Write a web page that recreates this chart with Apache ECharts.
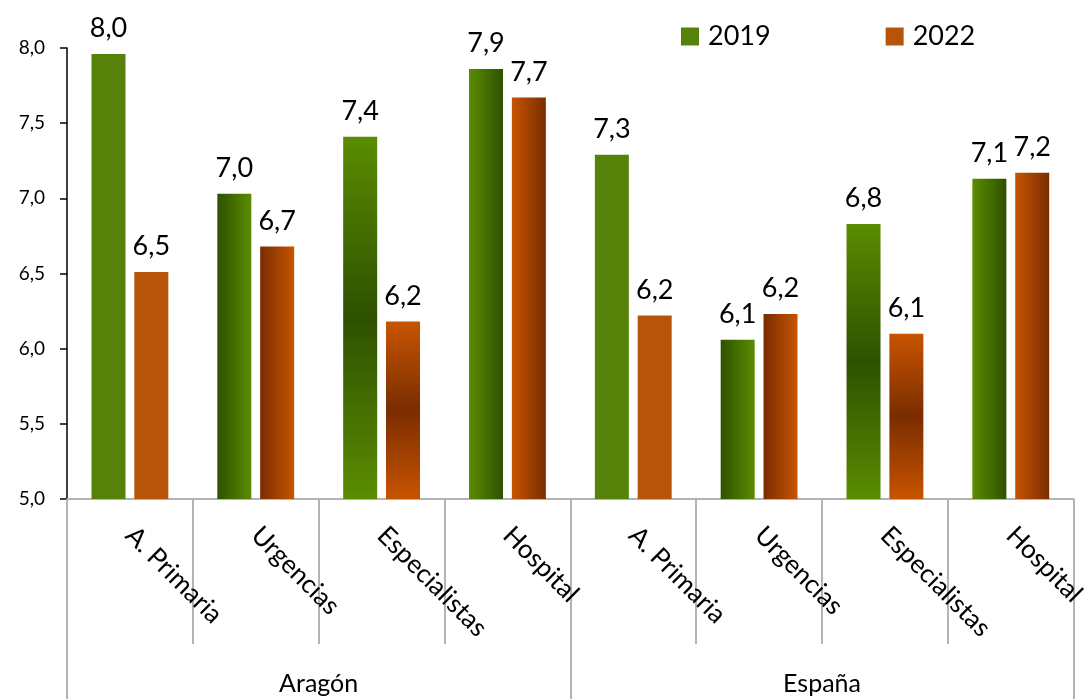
<!DOCTYPE html>
<html>
<head>
<meta charset="utf-8">
<script src="https://cdn.jsdelivr.net/npm/echarts@6/dist/echarts.min.js"></script>
<style>
  html, body { margin: 0; padding: 0; background: #fff; }
  #chart { width: 1089px; height: 699px; }
</style>
</head>
<body>
<div id="chart"></div>
<script>
// Regions (outer grouping) and services (inner categories)
const groups = ['Aragón', 'España'];
const categories = ['A. Primaria', 'Urgencias', 'Especialistas', 'Hospital',
                    'A. Primaria', 'Urgencias', 'Especialistas', 'Hospital'];
const seriesNames = ['2019', '2022'];
const values2019 = [7.96, 7.03, 7.41, 7.86, 7.29, 6.06, 6.83, 7.13];
const values2022 = [6.51, 6.68, 6.18, 7.67, 6.22, 6.23, 6.10, 7.17];
const yTicks = [5.0, 5.5, 6.0, 6.5, 7.0, 7.5, 8.0];

const FONT = 'Lato, "Open Sans", sans-serif';

// Palette: flat, bright and dark shade for each year
const palette = {
  green:  { flat: '#56820a', bright: '#5b8c00', dark: '#2e5100' },
  orange: { flat: '#b8540a', bright: '#c75400', dark: '#7a2d00' }
};
// Fill treatment per service, repeated for each region
const fillKinds = ['flat', 'darkLeft', 'centerDark', 'darkRight'];

function fillFor(pal, idx) {
  const kind = fillKinds[idx % fillKinds.length];
  if (kind === 'flat') return pal.flat;
  if (kind === 'darkLeft') {
    return new echarts.graphic.LinearGradient(0, 0, 1, 0, [
      { offset: 0, color: pal.dark }, { offset: 1, color: pal.bright }
    ]);
  }
  if (kind === 'darkRight') {
    return new echarts.graphic.LinearGradient(0, 0, 1, 0, [
      { offset: 0, color: pal.bright }, { offset: 1, color: pal.dark }
    ]);
  }
  return new echarts.graphic.LinearGradient(0, 0, 0, 1, [
    { offset: 0, color: pal.bright },
    { offset: 0.5, color: pal.dark },
    { offset: 1, color: pal.bright }
  ]);
}

function buildData(values, pal) {
  return values.map((v, i) => ({ value: v, itemStyle: { color: fillFor(pal, i) } }));
}

const fmt = v => Number(v).toFixed(1).replace('.', ',');

const chart = echarts.init(document.getElementById('chart'), null, { renderer: 'canvas' });

const labelStyle = {
  show: true,
  position: 'top',
  distance: 12,
  fontFamily: FONT,
  fontSize: 27,
  color: '#000',
  formatter: p => fmt(p.value)
};

chart.setOption({
  animation: false,
  textStyle: { fontFamily: FONT },
  legend: {
    data: seriesNames,
    left: 676,
    top: 18,
    icon: 'rect',
    itemWidth: 18,
    itemHeight: 18,
    itemGap: 115,
    textStyle: { fontFamily: FONT, fontSize: 27, color: '#000', padding: [0, 0, 0, 4] }
  },
  grid: { left: 67, right: 15, top: 48, bottom: 200, containLabel: false },
  xAxis: [
    {
      type: 'category',
      data: categories,
      position: 'bottom',
      boundaryGap: true,
      axisLine: { show: true, lineStyle: { color: '#b3b3b3', width: 2 } },
      axisTick: { show: true, interval: 0, length: 145, lineStyle: { color: '#b3b3b3', width: 2 } },
      axisLabel: {
        interval: 0,
        rotate: -45,
        margin: 32,
        fontFamily: FONT,
        fontSize: 26,
        color: '#000'
      }
    },
    {
      type: 'category',
      data: groups,
      position: 'bottom',
      boundaryGap: true,
      axisLine: { show: false },
      axisTick: { show: true, interval: 0, length: 200, lineStyle: { color: '#b3b3b3', width: 2 } },
      axisLabel: {
        interval: 0,
        margin: 172,
        fontFamily: FONT,
        fontSize: 25,
        color: '#000'
      }
    }
  ],
  yAxis: {
    type: 'value',
    min: yTicks[0],
    max: yTicks[yTicks.length - 1],
    interval: 0.5,
    axisLine: { show: true, lineStyle: { color: '#000', width: 1.5 } },
    axisTick: { show: true, length: 7, lineStyle: { color: '#000', width: 1.5 } },
    splitLine: { show: false },
    axisLabel: {
      margin: 22,
      fontFamily: FONT,
      fontSize: 19,
      color: '#000',
      formatter: v => fmt(v)
    }
  },
  series: [
    {
      name: seriesNames[0],
      type: 'bar',
      xAxisIndex: 0,
      barWidth: 34,
      barGap: '26%',
      itemStyle: { color: palette.green.flat },
      label: labelStyle,
      data: buildData(values2019, palette.green)
    },
    {
      name: seriesNames[1],
      type: 'bar',
      xAxisIndex: 0,
      barWidth: 34,
      barGap: '26%',
      itemStyle: { color: palette.orange.flat },
      label: labelStyle,
      data: buildData(values2022, palette.orange)
    }
  ]
});
</script>
</body>
</html>
